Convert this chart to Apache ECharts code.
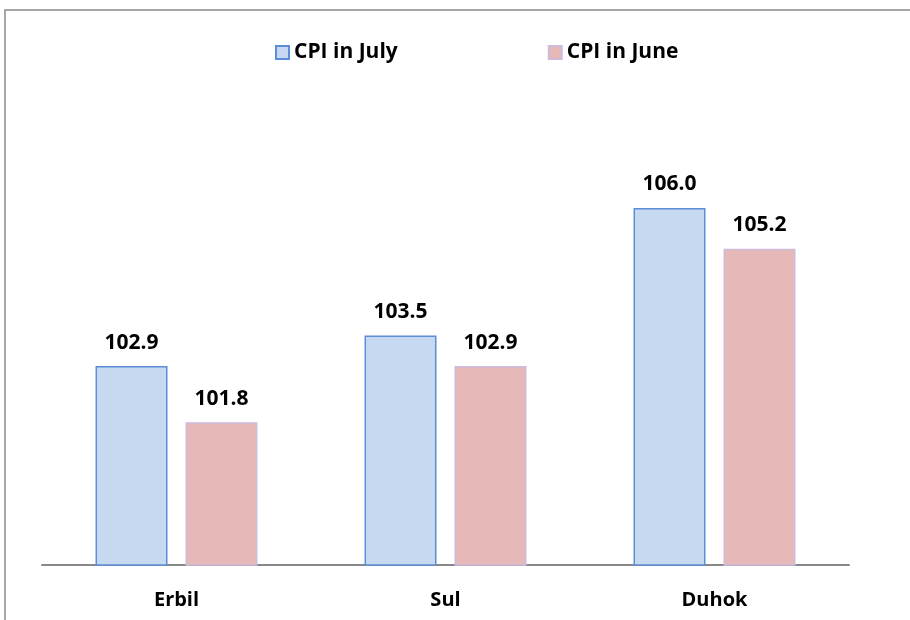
<!DOCTYPE html>
<html>
<head>
<meta charset="UTF-8">
<title>CPI</title>
<script src="https://cdn.jsdelivr.net/npm/echarts@6/dist/echarts.min.js"></script>
<style>
  html, body { margin: 0; padding: 0; background: #fff; }
  #main { width: 910px; height: 620px; }
</style>
</head>
<body>
<div id="main"></div>
<script>
// data
var regions = ['Erbil', 'Sul', 'Duhok'];
var cpiJuly = [102.9, 103.5, 106.0];
var cpiJune = [101.8, 102.9, 105.2];

var font = '"Open Sans", sans-serif';
var chart = echarts.init(document.getElementById('main'));

// value label on top of each bar
var barLabel = {
  show: true, position: 'top', distance: 13,
  formatter: function (p) { return p.value.toFixed(1); },
  fontFamily: font, fontWeight: 'bold', fontSize: 21, color: '#000'
};

chart.setOption({
  animation: false,
  backgroundColor: '#fff',
  graphic: [{
    type: 'rect',
    shape: { x: 5, y: 10, width: 1000, height: 800 },
    style: { fill: 'none', stroke: '#8a8a8a', lineWidth: 1.5 },
    z: 0
  }],
  legend: {
    left: 270,
    top: 37,
    itemWidth: 13,
    itemHeight: 13,
    itemGap: 150,
    icon: 'rect',
    textStyle: { fontFamily: font, fontWeight: 'bold', fontSize: 21, color: '#000' },
    data: ['CPI in July', 'CPI in June']
  },
  grid: { left: 42, right: 61, top: 4, bottom: 55, containLabel: false },
  xAxis: {
    type: 'category',
    data: regions,
    axisLine: { lineStyle: { color: '#888', width: 2 } },
    axisTick: { show: false },
    axisLabel: { margin: 25, fontFamily: font, fontWeight: 'bold', fontSize: 20, color: '#000' }
  },
  yAxis: {
    type: 'value',
    min: 99,
    max: 110,
    show: false,
    splitLine: { show: false }
  },
  series: [{
    name: 'CPI in July',
    type: 'bar',
    data: cpiJuly,
    barGap: '25%',
    barCategoryGap: '39.8%',
    itemStyle: { color: '#C6D9F1', borderColor: '#5B8ED6', borderWidth: 1.5 },
    label: barLabel
  }, {
    name: 'CPI in June',
    type: 'bar',
    data: cpiJune,
    itemStyle: { color: '#E6B9B8', borderColor: '#CDBBDB', borderWidth: 1.5 },
    label: barLabel
  }]
});
</script>
</body>
</html>
